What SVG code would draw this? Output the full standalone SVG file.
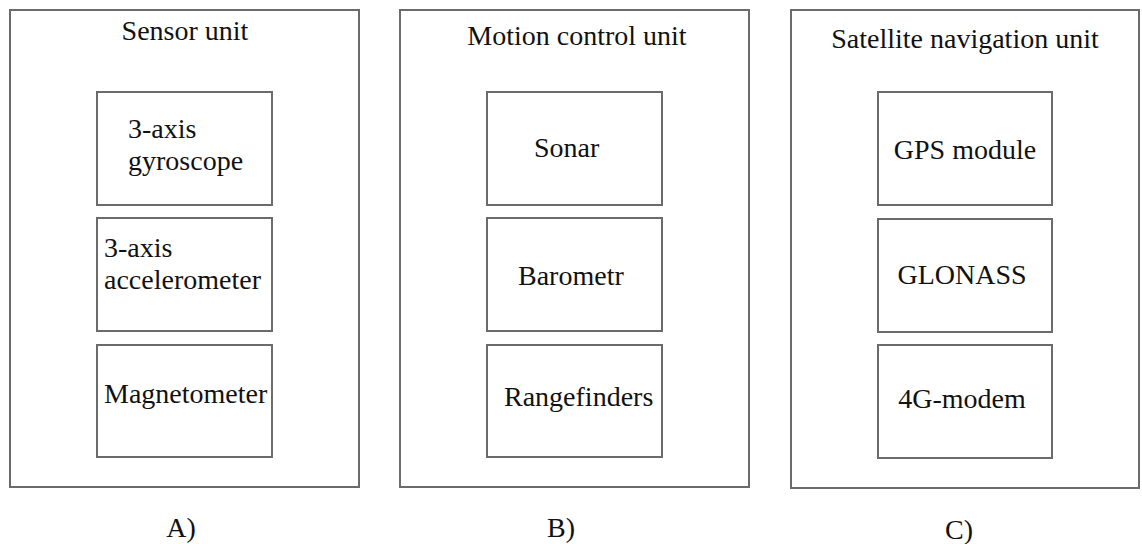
<svg xmlns="http://www.w3.org/2000/svg" width="1142" height="544" viewBox="0 0 1142 544">
<style>
.outer{fill:#fff;stroke:#6b6b6b;stroke-width:2}
.inner{fill:#fff;stroke:#6b6b6b;stroke-width:2}
.t{font-family:'Liberation Serif','Times New Roman','DejaVu Serif',serif;font-size:28px;fill:#111}
</style>
<rect width="1142" height="544" fill="#fff"/>
<g font-family="Liberation Serif, Times New Roman, serif" font-size="28">
<g id="panelA">
<rect class="outer" x="10" y="10" width="349" height="477"/>
<text class="t" x="185" y="40" text-anchor="middle">Sensor unit</text>
<g id="gyro"><rect class="inner" x="97" y="92" width="175" height="113"/>
<text class="t" x="128" y="138">3-axis</text><text class="t" x="128" y="170">gyroscope</text></g>
<g id="accel"><rect class="inner" x="97" y="218" width="175" height="113"/>
<text class="t" x="104" y="257">3-axis</text><text class="t" x="104" y="289">accelerometer</text></g>
<g id="magneto"><rect class="inner" x="97" y="345" width="175" height="112"/>
<text class="t" x="104" y="403">Magnetometer</text></g>
<text class="t" x="181" y="537" text-anchor="middle">A)</text>
</g>
<g id="panelB">
<rect class="outer" x="400" y="10" width="349" height="477"/>
<text class="t" x="577" y="45" text-anchor="middle">Motion control unit</text>
<g id="sonar"><rect class="inner" x="487" y="92" width="175" height="113"/>
<text class="t" x="534" y="157">Sonar</text></g>
<g id="barometr"><rect class="inner" x="487" y="218" width="175" height="113"/>
<text class="t" x="518" y="285">Barometr</text></g>
<g id="rangefinders"><rect class="inner" x="487" y="345" width="175" height="112"/>
<text class="t" x="504" y="406">Rangefinders</text></g>
<text class="t" x="561" y="537" text-anchor="middle">B)</text>
</g>
<g id="panelC">
<rect class="outer" x="791" y="10" width="348" height="478"/>
<text class="t" x="965" y="48" text-anchor="middle">Satellite navigation unit</text>
<g id="gps"><rect class="inner" x="878" y="92" width="174" height="113"/>
<text class="t" x="965" y="159" text-anchor="middle">GPS module</text></g>
<g id="glonass"><rect class="inner" x="878" y="219" width="174" height="113"/>
<text class="t" x="962" y="284" text-anchor="middle">GLONASS</text></g>
<g id="modem"><rect class="inner" x="878" y="345" width="174" height="113"/>
<text class="t" x="962" y="408" text-anchor="middle">4G-modem</text></g>
<text class="t" x="959" y="539" text-anchor="middle">C)</text>
</g>
</g>
<g id="connectors"/>
</svg>
